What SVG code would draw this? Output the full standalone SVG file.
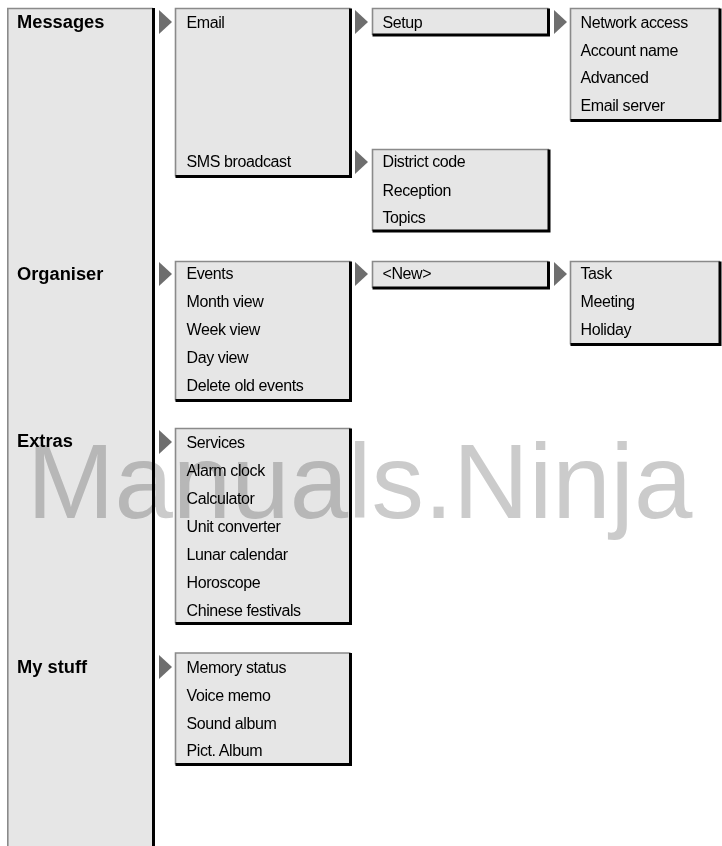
<svg xmlns="http://www.w3.org/2000/svg" width="722" height="846" viewBox="0 0 722 846">
<style>
.bg{fill:#e6e6e6}
.lt{fill:none;stroke:#8a8a8a;stroke-width:1.6}
.dk{fill:none;stroke:#000;stroke-width:3}
.t{font-family:"Liberation Sans",Arial,sans-serif;font-size:16px;letter-spacing:-0.4px;fill:#000}
.h{font-family:"Liberation Sans",Arial,sans-serif;font-size:18.3px;font-weight:bold;fill:#000}
.ar{fill:#6e6e6e}
.wm{font-family:"Liberation Sans",Arial,sans-serif;font-size:105px;fill:#cbcbcb;mix-blend-mode:multiply}
</style>
<rect width="722" height="846" fill="#fff"/>
<g id="main-menu">
<rect class="bg" x="7" y="8" width="146.5" height="838"/>
<path class="lt" d="M7.8,846 V8.5 H153"/>
<path class="dk" d="M153.5,8 V846"/>
<text class="h" x="17" y="28">Messages</text>
<text class="h" x="17" y="280">Organiser</text>
<text class="h" x="17" y="447">Extras</text>
<text class="h" x="17" y="673">My stuff</text>
</g>
<g id="messages-sub">
<rect class="bg" x="175.5" y="8.5" width="175" height="168"/>
<path class="lt" d="M175.5,176.5 V8.5 H350.5"/>
<path class="dk" d="M350.5,8.5 V176.5 H175.5"/>
<text class="t" x="186.5" y="28">Email</text>
<text class="t" x="186.5" y="167">SMS broadcast</text>
</g>
<g id="email-sub">
<rect class="bg" x="372.5" y="8.5" width="176" height="26.5"/>
<path class="lt" d="M372.5,35 V8.5 H548.5"/>
<path class="dk" d="M548.5,8.5 V35 H372.5"/>
<text class="t" x="382.5" y="28">Setup</text>
</g>
<g id="setup-sub">
<rect class="bg" x="570.5" y="8.5" width="149.5" height="112"/>
<path class="lt" d="M570.5,120.5 V8.5 H720"/>
<path class="dk" d="M720,8.5 V120.5 H570.5"/>
<text class="t" x="580.5" y="28">Network access</text>
<text class="t" x="580.5" y="55.5">Account name</text>
<text class="t" x="580.5" y="83">Advanced</text>
<text class="t" x="580.5" y="110.5">Email server</text>
</g>
<g id="sms-sub">
<rect class="bg" x="372.5" y="149.5" width="176.5" height="81.5"/>
<path class="lt" d="M372.5,231 V149.5 H549"/>
<path class="dk" d="M549,149.5 V231 H372.5"/>
<text class="t" x="382.5" y="167">District code</text>
<text class="t" x="382.5" y="195.5">Reception</text>
<text class="t" x="382.5" y="223">Topics</text>
</g>
<g id="organiser-sub">
<rect class="bg" x="175.5" y="261.5" width="175" height="139"/>
<path class="lt" d="M175.5,400.5 V261.5 H350.5"/>
<path class="dk" d="M350.5,261.5 V400.5 H175.5"/>
<text class="t" x="186.5" y="279">Events</text>
<text class="t" x="186.5" y="307">Month view</text>
<text class="t" x="186.5" y="335">Week view</text>
<text class="t" x="186.5" y="363">Day view</text>
<text class="t" x="186.5" y="391">Delete old events</text>
</g>
<g id="events-sub">
<rect class="bg" x="372.5" y="261.5" width="176" height="26.5"/>
<path class="lt" d="M372.5,288 V261.5 H548.5"/>
<path class="dk" d="M548.5,261.5 V288 H372.5"/>
<text class="t" x="382.5" y="279">&lt;New&gt;</text>
</g>
<g id="new-sub">
<rect class="bg" x="570.5" y="261.5" width="149.5" height="83"/>
<path class="lt" d="M570.5,344.5 V261.5 H720"/>
<path class="dk" d="M720,261.5 V344.5 H570.5"/>
<text class="t" x="580.5" y="279">Task</text>
<text class="t" x="580.5" y="307">Meeting</text>
<text class="t" x="580.5" y="334.5">Holiday</text>
</g>
<g id="extras-sub">
<rect class="bg" x="175.5" y="428.5" width="175" height="195"/>
<path class="lt" d="M175.5,623.5 V428.5 H350.5"/>
<path class="dk" d="M350.5,428.5 V623.5 H175.5"/>
<text class="t" x="186.5" y="447.5">Services</text>
<text class="t" x="186.5" y="475.5">Alarm clock</text>
<text class="t" x="186.5" y="503.5">Calculator</text>
<text class="t" x="186.5" y="531.5">Unit converter</text>
<text class="t" x="186.5" y="559.5">Lunar calendar</text>
<text class="t" x="186.5" y="587.5">Horoscope</text>
<text class="t" x="186.5" y="615.5">Chinese festivals</text>
</g>
<g id="mystuff-sub">
<rect class="bg" x="175.5" y="653" width="175" height="111.5"/>
<path class="lt" d="M175.5,764.5 V653 H350.5"/>
<path class="dk" d="M350.5,653 V764.5 H175.5"/>
<text class="t" x="186.5" y="672.5">Memory status</text>
<text class="t" x="186.5" y="700.5">Voice memo</text>
<text class="t" x="186.5" y="728.5">Sound album</text>
<text class="t" x="186.5" y="756">Pict. Album</text>
</g>
<g id="connectors">
<polygon class="ar" points="159,10 172,22 159,34"/>
<polygon class="ar" points="355,10 368,22 355,34"/>
<polygon class="ar" points="554,10 567,22 554,34"/>
<polygon class="ar" points="355,150 368,162 355,174"/>
<polygon class="ar" points="159,262 172,274 159,286"/>
<polygon class="ar" points="355,262 368,274 355,286"/>
<polygon class="ar" points="554,262 567,274 554,286"/>
<polygon class="ar" points="159,430 172,442 159,454"/>
<polygon class="ar" points="159,655 172,667 159,679"/>
</g>
<g id="watermark">
<text class="wm" x="27" y="518">Manuals.Ninja</text>
</g>
</svg>
